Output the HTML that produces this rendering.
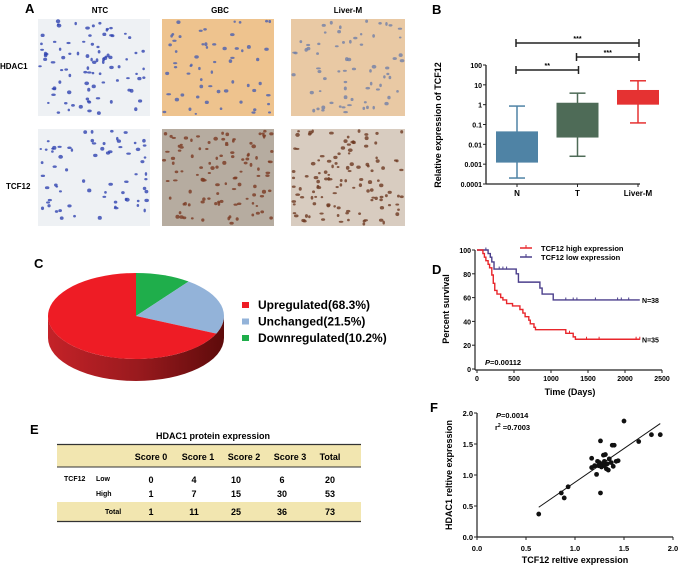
<!DOCTYPE html>
<html><head><meta charset="utf-8"><style>
html,body{margin:0;padding:0;background:#fff;}
svg{display:block;font-family:"Liberation Sans",Arial,sans-serif;}
text{font-weight:bold;}
</style></head><body>
<svg id="fig" width="700" height="572" viewBox="0 0 700 572" xmlns="http://www.w3.org/2000/svg">
<defs>
<linearGradient id="sideGrad" x1="0" x2="1" y1="0" y2="0">
<stop offset="0" stop-color="#c42228"/><stop offset="0.5" stop-color="#9a1a1e"/><stop offset="1" stop-color="#5e0b0b"/>
</linearGradient>
</defs>
<!-- Panel A -->
<g>
<text x="25" y="13" font-size="13">A</text>
<text x="100" y="13" font-size="8" text-anchor="middle">NTC</text>
<text x="220" y="13" font-size="8" text-anchor="middle">GBC</text>
<text x="348" y="13" font-size="8" text-anchor="middle">Liver-M</text>
<text x="0" y="69" font-size="8">HDAC1</text>
<text x="6" y="189" font-size="8">TCF12</text>
<g id="ihc"></g>
</g>
<!-- Panel B -->
<g id="panelB">
<text x="432" y="14" font-size="13">B</text>
<text transform="translate(441,125) rotate(-90)" font-size="9" text-anchor="middle">Relative expression of TCF12</text>
</g>
<!-- Panel C -->
<g id="panelC">
<text x="34" y="268" font-size="13">C</text>
</g>
<!-- Panel D -->
<g id="panelD">
<text x="432" y="274" font-size="13">D</text>
<text transform="translate(449,309) rotate(-90)" font-size="9" text-anchor="middle">Percent survival</text>
<text x="570" y="395" font-size="9" text-anchor="middle">Time (Days)</text>
<text x="485" y="365" font-size="7.5"><tspan font-style="italic">P</tspan>=0.00112</text>
</g>
<!-- Panel E -->
<g>
<text x="30" y="434" font-size="13">E</text>
<text x="213" y="439" font-size="9" text-anchor="middle">HDAC1 protein expression</text>
<rect x="57" y="444" width="304" height="23" fill="#f2e6b0"/>
<line x1="57" y1="444.5" x2="361" y2="444.5" stroke="#333" stroke-width="1.2"/>
<line x1="57" y1="467" x2="361" y2="467" stroke="#333" stroke-width="1"/>
<rect x="57" y="502" width="304" height="19" fill="#f2e6b0"/>
<line x1="57" y1="521.5" x2="361" y2="521.5" stroke="#333" stroke-width="1.2"/>
<g font-size="9" text-anchor="middle">
<text x="151" y="460">Score 0</text>
<text x="198" y="460">Score 1</text>
<text x="244" y="460">Score 2</text>
<text x="290" y="460">Score 3</text>
<text x="330" y="460">Total</text>
</g>
<g font-size="7">
<text x="64" y="481">TCF12</text><text x="96" y="481">Low</text>
<text x="96" y="496">High</text><text x="105" y="514">Total</text>
</g>
<g font-size="9" text-anchor="middle">
<text x="151" y="483">0</text><text x="194" y="483">4</text><text x="236" y="483">10</text><text x="282" y="483">6</text><text x="330" y="483">20</text>
<text x="151" y="497">1</text><text x="194" y="497">7</text><text x="236" y="497">15</text><text x="282" y="497">30</text><text x="330" y="497">53</text>
<text x="151" y="515">1</text><text x="194" y="515">11</text><text x="236" y="515">25</text><text x="282" y="515">36</text><text x="330" y="515">73</text>
</g>
</g>
<!-- Panel F -->
<g id="panelF">
<text x="430" y="412" font-size="13">F</text>
<text transform="translate(452,475) rotate(-90)" font-size="9" text-anchor="middle">HDAC1 reltive expression</text>
<text x="575" y="563" font-size="9" text-anchor="middle">TCF12 reltive expression</text>
<text x="496" y="418" font-size="7.5"><tspan font-style="italic">P</tspan>=0.0014</text>
<text x="495" y="430" font-size="7.5">r<tspan font-size="5" dy="-3">2</tspan><tspan dy="3"> =0.7003</tspan></text>
</g>
</svg>
<script>
const NS="http://www.w3.org/2000/svg";
function mk(tag,attrs,parent){const e=document.createElementNS(NS,tag);for(const k in attrs)e.setAttribute(k,attrs[k]);parent.appendChild(e);return e;}

/* ---------- Panel A: IHC images (decorative texture) ---------- */
const ihc=document.getElementById('ihc');
const imgBoxes=[[38,19,112,97,'#eef1f4','#2f44b0',90],[162,19,112,97,'#eec38e','#4a5fb0',60],[291,19,114,97,'#e9c9a4','#7080a8',70],
[38,129,112,97,'#eef1f4','#2f44b0',70],[162,129,112,97,'#b6aca0','#7a3a22',110],[291,129,114,97,'#d8ccc0','#6e3a22',120]];
const imgNames=['img-hdac1-ntc','img-hdac1-gbc','img-hdac1-liver','img-tcf12-ntc','img-tcf12-gbc','img-tcf12-liver'];
let seed=7;function rnd(){seed=(seed*9301+49297)%233280;return seed/233280;}
imgBoxes.forEach((b,i)=>{
 const g=mk('g',{},ihc);
 
 
 mk('rect',{x:b[0],y:b[1],width:b[2],height:b[3],fill:b[4]},g);
 for(let k=0;k<b[6];k++){mk('ellipse',{cx:b[0]+2+rnd()*(b[2]-4),cy:b[1]+2+rnd()*(b[3]-4),rx:1.2+rnd()*1.2,ry:1+rnd(),fill:b[5],opacity:0.8},g);}
});

/* ---------- Panel B: box plot ---------- */
const bCats=['N','T','Liver-M'];
const bMin=[0.0002,0.0025,0.12];
const bQ1=[0.0012,0.022,1.0];
const bQ3=[0.045,1.25,5.5];
const bMax=[0.85,3.8,16];
const bColors=['#4f83a5','#4e6b57','#e53232'];
const bTicks=[100,10,1,0.1,0.01,0.001,0.0001];
const bTickLabels=['100','10','1','0.1','0.01','0.001','0.0001'];
const pB=document.getElementById('panelB');
const bx0=486,bx1=640,by0=184,byTop=65;
function byS(v){return by0-(Math.log10(v)+4)/6*(by0-byTop);}
function bxS(i){return 517+i*60.5;}
mk('line',{x1:bx0,y1:byTop,x2:bx0,y2:by0,stroke:'#222','stroke-width':1.3},pB);
mk('line',{x1:bx0,y1:by0,x2:bx1,y2:by0,stroke:'#222','stroke-width':1.3},pB);
bTicks.forEach((t,i)=>{
 mk('line',{x1:bx0-3,y1:byS(t),x2:bx0,y2:byS(t),stroke:'#222','stroke-width':1},pB);
 const tx=mk('text',{x:bx0-4,y:byS(t)+3,'font-size':7,'text-anchor':'end'},pB);tx.textContent=bTickLabels[i];
 
 
});
bCats.forEach((c,i)=>{
 const x=bxS(i),w=42,col=bColors[i];
 const g=mk('g',{},pB);
 
 
 mk('line',{x1:x,y1:byS(bMax[i]),x2:x,y2:byS(bMin[i]),stroke:col,'stroke-width':1.5},g);
 mk('line',{x1:x-8,y1:byS(bMax[i]),x2:x+8,y2:byS(bMax[i]),stroke:col,'stroke-width':1.5},g);
 mk('line',{x1:x-8,y1:byS(bMin[i]),x2:x+8,y2:byS(bMin[i]),stroke:col,'stroke-width':1.5},g);
 mk('rect',{x:x-w/2,y:byS(bQ3[i]),width:w,height:byS(bQ1[i])-byS(bQ3[i]),fill:col},g);
 mk('line',{x1:x,y1:by0,x2:x,y2:by0+3,stroke:'#222'},pB);
 const t=mk('text',{x:x,y:by0+12,'font-size':8,'text-anchor':'middle'},pB);t.textContent=c;
 
 
});
const sigPairs=[[0,2,43,'***'],[1,2,57,'***'],[0,1,70,'**']];
sigPairs.forEach(s=>{
 const g=mk('g',{},pB);
 
 
 const a=bxS(s[0])-1,b=bxS(s[1])+1;
 mk('line',{x1:a,y1:s[2],x2:b,y2:s[2],stroke:'#222','stroke-width':1.5},g);
 mk('line',{x1:a,y1:s[2]-4,x2:a,y2:s[2]+4,stroke:'#222','stroke-width':1.5},g);
 mk('line',{x1:b,y1:s[2]-4,x2:b,y2:s[2]+4,stroke:'#222','stroke-width':1.5},g);
 const t=mk('text',{x:(a+b)/2,y:s[2]-2,'font-size':7,'text-anchor':'middle'},g);t.textContent=s[3];
});

/* ---------- Panel C: 3D pie ---------- */
const pieLabels=['Downregulated(10.2%)','Unchanged(21.5%)','Upregulated(68.3%)'];
const pieValues=[10.2,21.5,68.3];
const pieColors=['#1fae4b','#93b3d9','#ee1c25'];
const pC=document.getElementById('panelC');
const cx=136,cy=316,rx=88,ry=43,depth=22;
function pt(a){return [cx+rx*Math.sin(a),cy-ry*Math.cos(a)];}
const side=mk('path',{d:`M${cx-rx},${cy} L${cx-rx},${cy+depth} A${rx},${ry} 0 0 0 ${cx+rx},${cy+depth} L${cx+rx},${cy} A${rx},${ry} 0 0 1 ${cx-rx},${cy} Z`,fill:'url(#sideGrad)'},pC);


let acc=0;const tot=pieValues.reduce((a,b)=>a+b,0);
pieValues.forEach((v,i)=>{
 const a0=acc/tot*2*Math.PI;acc+=v;const a1=acc/tot*2*Math.PI;
 const p0=pt(a0),p1=pt(a1);const large=(a1-a0)>Math.PI?1:0;
 const s=mk('path',{d:`M${cx},${cy} L${p0[0]},${p0[1]} A${rx},${ry} 0 ${large} 1 ${p1[0]},${p1[1]} Z`,fill:pieColors[i]},pC);
 
 
});
const legOrder=[2,1,0];
legOrder.forEach((idx,k)=>{
 const y=307+k*16.5;
 const g=mk('g',{},pC);
 
 
 mk('rect',{x:242,y:y-5,width:7,height:6,fill:pieColors[idx]},g);
 const t=mk('text',{x:258,y:y+2,'font-size':12},g);t.textContent=pieLabels[idx];
});

/* ---------- Panel D: Kaplan-Meier ---------- */
const highT=[0,80,100,120,150,170,200,220,240,270,320,350,400,480,580,620,650,700,720,770,790,1200,1300,1330,2200];
const highS=[100,97,94,91,88,85,79,72,66,63,60,58,55,53,50,47,44,41,38,35,33,30,27,25,25];
const highCens=[1250,1480,1650,2150,2200];
const lowT=[0,150,180,200,230,530,560,850,880,1030,2200];
const lowS=[100,97,94,90,84,80,73,68,63,58,58];
const lowCens=[120,180,300,350,400,1200,1300,1350,1600,1900,1950,2050];
const dXTicks=[0,500,1000,1500,2000,2500];
const dYTicks=[0,20,40,60,80,100];
const pD=document.getElementById('panelD');
const dx0=477,dxMax=662,dy0=369,dyTop=250;
function dxS(v){return dx0+v/2500*(dxMax-dx0);}
function dyS(v){return dy0-v/100*(dy0-dyTop);}
mk('line',{x1:dx0-2,y1:dyTop,x2:dx0-2,y2:dy0+1,stroke:'#222','stroke-width':1.2},pD);
mk('line',{x1:dx0-2,y1:dy0+1,x2:dxMax,y2:dy0+1,stroke:'#222','stroke-width':1.2},pD);
dYTicks.forEach(t=>{
 mk('line',{x1:dx0-5,y1:dyS(t),x2:dx0-2,y2:dyS(t),stroke:'#222'},pD);
 const tx=mk('text',{x:dx0-6,y:dyS(t)+3,'font-size':7,'text-anchor':'end'},pD);tx.textContent=t;
 
 
});
dXTicks.forEach(t=>{
 mk('line',{x1:dxS(t),y1:dy0+1,x2:dxS(t),y2:dy0+4,stroke:'#222'},pD);
 const tx=mk('text',{x:dxS(t),y:dy0+12,'font-size':7,'text-anchor':'middle'},pD);tx.textContent=t;
 
 
});
function stepAt(T,S,t){let s=S[0];for(let i=0;i<T.length;i++){if(T[i]<=t)s=S[i];}return s;}
function drawKM(T,S,C,col,name){
 let d=`M${dxS(T[0])},${dyS(S[0])}`;
 for(let i=1;i<T.length;i++){d+=` H${dxS(T[i])} V${dyS(S[i])}`;}
 const p=mk('path',{d:d,fill:'none',stroke:col,'stroke-width':1.4},pD);
 
 
 C.forEach(c=>{const y=dyS(stepAt(T,S,c));mk('line',{x1:dxS(c),y1:y-2.5,x2:dxS(c),y2:y+0.5,stroke:col,'stroke-width':1},pD);});
}
drawKM(lowT,lowS,lowCens,'#4b3f8c','km-low-expression');
drawKM(highT,highS,highCens,'#e8262b','km-high-expression');
const nl=mk('text',{x:dxS(2230),y:dyS(58)+3,'font-size':7},pD);nl.textContent='N=38';
const nh=mk('text',{x:dxS(2230),y:dyS(25)+3,'font-size':7},pD);nh.textContent='N=35';
[['TCF12 high expression','#e8262b',248],['TCF12 low expression','#4b3f8c',257]].forEach(l=>{
 const g=mk('g',{},pD);
 
 
 mk('line',{x1:520,y1:l[2],x2:532,y2:l[2],stroke:l[1],'stroke-width':1.5},g);
 mk('line',{x1:526,y1:l[2]-3,x2:526,y2:l[2],stroke:l[1],'stroke-width':1},g);
 const t=mk('text',{x:541,y:l[2]+3,'font-size':7.5},g);t.textContent=l[0];
});

/* ---------- Panel F: scatter ---------- */
const fX=[0.63,0.86,0.89,0.93,1.17,1.17,1.2,1.22,1.23,1.25,1.26,1.26,1.27,1.28,1.29,1.3,1.31,1.32,1.33,1.34,1.35,1.37,1.38,1.4,1.39,1.42,1.44,1.5,1.65,1.78,1.87,1.24,1.3];
const fY=[0.37,0.71,0.63,0.81,1.27,1.12,1.15,1.01,1.22,1.2,1.55,0.71,1.13,1.18,1.32,1.22,1.33,1.1,1.18,1.08,1.26,1.2,1.48,1.48,1.14,1.22,1.23,1.87,1.54,1.65,1.65,1.15,1.15];
const fFitX=[0.63,1.87];
const fFitY=[0.48,1.83];
const fTicks=[0,0.5,1.0,1.5,2.0];
const fTickLabels=['0.0','0.5','1.0','1.5','2.0'];
const pF=document.getElementById('panelF');
const fx0=477,fx1=673,fy0=537,fy1=413;
function fxS(v){return fx0+v/2*(fx1-fx0);}
function fyS(v){return fy0-v/2*(fy0-fy1);}
mk('line',{x1:fx0,y1:fy1,x2:fx0,y2:fy0,stroke:'#222','stroke-width':1.2},pF);
mk('line',{x1:fx0,y1:fy0,x2:fx1,y2:fy0,stroke:'#222','stroke-width':1.2},pF);
fTicks.forEach((t,i)=>{
 mk('line',{x1:fx0-3,y1:fyS(t),x2:fx0,y2:fyS(t),stroke:'#222'},pF);
 const a=mk('text',{x:fx0-4,y:fyS(t)+3,'font-size':7.5,'text-anchor':'end'},pF);a.textContent=fTickLabels[i];
 
 
 mk('line',{x1:fxS(t),y1:fy0,x2:fxS(t),y2:fy0+3,stroke:'#222'},pF);
 const b=mk('text',{x:fxS(t),y:fy0+14,'font-size':7.5,'text-anchor':'middle'},pF);b.textContent=fTickLabels[i];
 
 
});
const fl=mk('line',{x1:fxS(fFitX[0]),y1:fyS(fFitY[0]),x2:fxS(fFitX[1]),y2:fyS(fFitY[1]),stroke:'#111','stroke-width':1},pF);


fX.forEach((x,i)=>{
 const c=mk('circle',{cx:fxS(x),cy:fyS(fY[i]),r:2.4,fill:'#111'},pF);
 
 
});
</script>
</body></html>
